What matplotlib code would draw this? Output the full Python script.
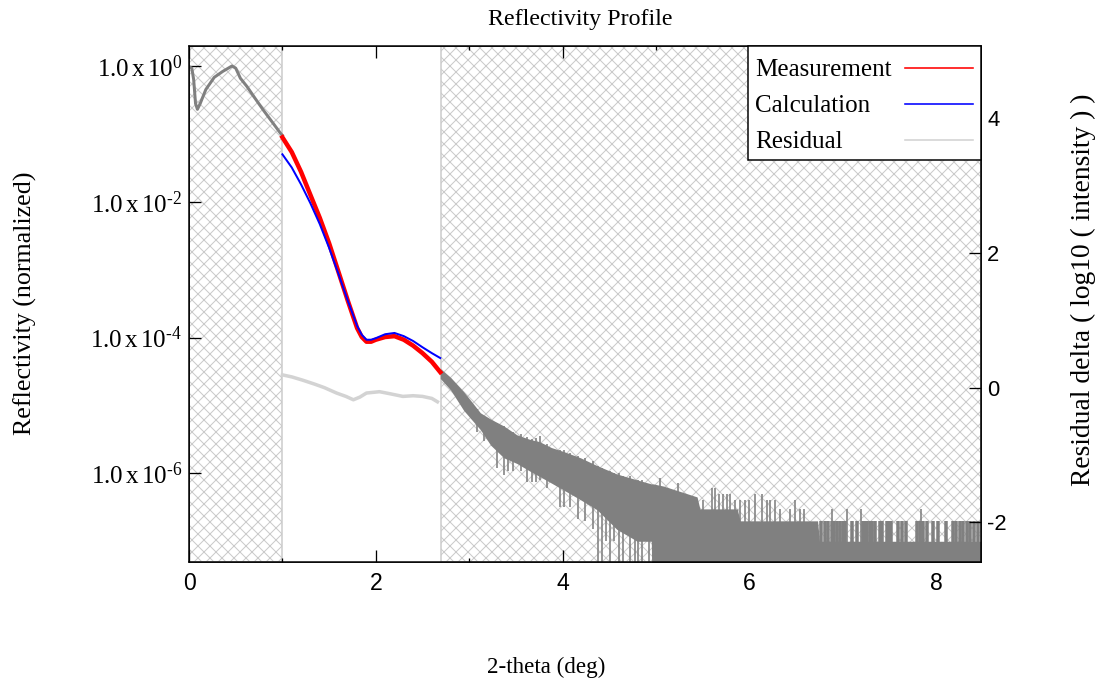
import matplotlib
matplotlib.use("Agg")
import matplotlib.pyplot as plt
import numpy as np
from matplotlib.patches import Rectangle
from matplotlib.ticker import FixedLocator, FuncFormatter, NullLocator

# --- data --------------------------------------------------------------
# measurement outside the fit window (0..1 deg), reflectivity
low_x = [0.00, 0.03, 0.05, 0.07, 0.09, 0.12, 0.18, 0.27, 0.36, 0.46, 0.50,
         0.55, 0.62, 0.71, 0.80, 0.89, 0.98, 1.00]
low_y = [0.98, 0.93, 0.63, 0.28, 0.23, 0.28, 0.45, 0.68, 0.83, 1.00, 0.93,
         0.66, 0.50, 0.33, 0.22, 0.15, 0.102, 0.095]

# fit window 1..2.7 deg
fit_x = [1.00, 1.10, 1.20, 1.30, 1.40, 1.50, 1.60, 1.70, 1.80, 1.85, 1.90,
         1.95, 2.00, 2.10, 2.20, 2.30, 2.40, 2.50, 2.60, 2.69]
meas_y = [8.9e-2, 5.4e-2, 2.75e-2, 1.26e-2, 5.8e-3, 2.45e-3, 9.3e-4, 3.5e-4,
          1.38e-4, 1.02e-4, 8.7e-5, 8.7e-5, 9.3e-5, 1.02e-4, 1.05e-4, 9.3e-5,
          7.6e-5, 5.9e-5, 4.4e-5, 3.1e-5]
calc_y = [5.0e-2, 3.2e-2, 1.8e-2, 9.5e-3, 4.7e-3, 2.1e-3, 8.7e-4, 3.5e-4,
          1.48e-4, 1.1e-4, 9.3e-5, 9.3e-5, 9.8e-5, 1.12e-4, 1.17e-4, 1.05e-4,
          8.9e-5, 7.2e-5, 5.9e-5, 5.0e-5]

# residual, log10 units (right axis)
res_x = [1.00, 1.10, 1.22, 1.35, 1.45, 1.58, 1.68, 1.76, 1.83, 1.90, 2.04,
         2.15, 2.29, 2.40, 2.50, 2.60, 2.66]
res_y = [0.19, 0.16, 0.11, 0.05, 0.00, -0.08, -0.13, -0.18, -0.14, -0.08,
         -0.06, -0.09, -0.13, -0.12, -0.13, -0.16, -0.21]

# noisy measurement above 2.7 deg: band envelope (0 = no counts)
tail_x = [2.69, 2.80, 2.94, 3.03, 3.12, 3.23, 3.37, 3.51, 3.64, 3.76, 3.88,
          4.01, 4.19, 4.37, 4.58, 4.80, 4.95, 4.97, 5.08, 5.44, 5.47, 5.87,
          5.90, 6.73, 6.75, 8.48]
tail_hi = [3.5e-5, 2.6e-5, 1.6e-5, 1.12e-5, 7.8e-6, 6.3e-6, 5.0e-6, 3.7e-6,
           3.2e-6, 2.9e-6, 2.4e-6, 2.1e-6, 1.7e-6, 1.3e-6, 9.8e-7, 8e-7,
           7e-7, 7e-7, 6.5e-7, 4.5e-7, 3e-7, 3e-7, 2e-7, 2e-7, 1e-7, 1e-7]
tail_lo = [2.5e-5, 1.7e-5, 8.5e-6, 6.1e-6, 4.4e-6, 2.6e-6, 1.7e-6, 1.4e-6,
           1.1e-6, 8.9e-7, 7.2e-7, 5.7e-7, 4.1e-7, 2.9e-7, 1.5e-7, 1e-7,
           1e-7, 0, 0, 0, 0, 0, 0, 0, 0, 0]

# single spikes (x, low end, high end)
spike_x = [3.08, 3.16, 3.30, 3.37, 3.42, 3.47, 3.55, 3.62, 3.67, 3.72, 3.76,
           3.83, 3.97, 4.02, 4.08, 4.16, 4.24, 4.33, 4.38, 4.42, 4.47, 4.51,
           4.55, 4.60, 4.65, 4.72, 4.78, 4.81, 4.85, 4.92, 5.04, 5.24, 5.50,
           5.60, 5.63, 5.67, 5.72, 5.76, 5.79, 5.85, 5.90, 5.95, 6.00, 6.06,
           6.13, 6.19, 6.22, 6.27, 6.33, 6.43, 6.49, 6.54, 6.58, 6.89, 7.05,
           7.20, 7.84]
spike_lo = [4e-6, 3e-6, 1.2e-6, 9.5e-7, 1.1e-6, 1.1e-6, 1.1e-6, 7.5e-7,
            7.5e-7, 7.5e-7, 8e-7, 6e-7, 3.2e-7, 3.2e-7, 3.2e-7, 2.1e-7, 2e-7,
            1.5e-7, 0, 0, 1e-7, 0, 1e-7, 0, 0, 0, 0, 0, 0, 0, 0, 0, 0, 0, 0, 0,
            0, 0, 0, 0, 0, 0, 0, 0, 0, 0, 0, 0, 0, 0, 0, 0, 0, 0, 0, 0, 0]
spike_hi = [9e-6, 7e-6, 5.5e-6, 5e-6, 4.3e-6, 4e-6, 3.8e-6, 3.4e-6, 3.2e-6,
            3.3e-6, 3.6e-6, 2.7e-6, 2.2e-6, 2.2e-6, 2e-6, 1.8e-6, 1.7e-6,
            1.5e-6, 1.3e-6, 1.2e-6, 1.1e-6, 1.1e-6, 1.0e-6, 1.0e-6, 9e-7,
            9e-7, 8e-7, 8e-7, 8e-7, 7e-7, 8.6e-7, 7.3e-7, 4e-7, 6e-7, 6e-7,
            5e-7, 5e-7, 5e-7, 5e-7, 4e-7, 4e-7, 4e-7, 4e-7, 5e-7, 5e-7, 4e-7,
            4e-7, 4e-7, 3e-7, 3e-7, 4e-7, 3e-7, 3e-7, 3e-7, 3e-7, 3e-7, 3e-7]

# two-count bars in the flat tail
bar_x = [6.77, 6.81, 6.84, 6.88, 6.91, 6.94, 6.97, 7.00, 7.02, 7.10, 7.15,
         7.22, 7.24, 7.26, 7.29, 7.31, 7.34, 7.40, 7.42, 7.47, 7.50, 7.52,
         7.59, 7.63, 7.68, 7.80, 7.83, 7.86, 7.90, 7.97, 8.02, 8.11, 8.18,
         8.21, 8.25, 8.29, 8.33, 8.36, 8.40, 8.45]
bar_top = 2e-7

fit_window = (1.0, 2.7)
legend_labels = ["Measurement", "Calculation", "Residual"]
legend_colors = ["red", "blue", "#d3d3d3"]

# --- style -----------------------------------------------------------------
plt.rcParams["font.family"] = "Liberation Serif"
plt.rcParams["mathtext.fontset"] = "custom"
plt.rcParams["mathtext.rm"] = "Liberation Serif"
plt.rcParams["mathtext.it"] = "Liberation Serif"
plt.rcParams["hatch.color"] = "#cacaca"
plt.rcParams["hatch.linewidth"] = 1.0
plt.rcParams["axes.unicode_minus"] = False

W, H = 1099, 683
L, R, T, B = 189, 981, 45.7, 562
fig = plt.figure(figsize=(W / 72, H / 72), dpi=72)
ax = fig.add_axes([L / W, 1 - B / H, (R - L) / W, (B - T) / H])

gray = "#808080"
hatch_c = "#cacaca"
floor = 1e-9

xmax = 8.48
ax.axvspan(0, fit_window[0], facecolor="white", edgecolor=hatch_c, hatch="xx",
           lw=1.5, zorder=0)
ax.axvspan(fit_window[1], xmax, facecolor="white", edgecolor=hatch_c,
           hatch="xx", lw=1.5, zorder=0)

ax.plot(low_x, low_y, color=gray, lw=3, zorder=2)
ax.fill_between(tail_x, np.maximum(tail_lo, floor), tail_hi, color=gray, lw=0,
                zorder=2)
ax.vlines(spike_x, np.maximum(spike_lo, floor), spike_hi, color=gray, lw=1.6,
          zorder=2)
ax.vlines(bar_x, floor, bar_top, color=gray, lw=3.5, zorder=2)

ax.plot(fit_x, meas_y, color="red", lw=4.5, zorder=3)
ax.plot(fit_x, calc_y, color="blue", lw=2, zorder=4)

ax.set_yscale("log")
ax.set_xlim(0, xmax)
ax.set_ylim(4.95e-8, 1.99)


def decade_label(v, pos):
    e = int(round(np.log10(v)))
    return r"$\mathrm{1.0\,x\,10}^{\text{%d}}$" % e


ax.xaxis.set_major_locator(FixedLocator([0, 2, 4, 6, 8]))
ax.xaxis.set_minor_locator(FixedLocator([1, 3, 5, 7]))
ax.yaxis.set_major_locator(FixedLocator([1e-6, 1e-4, 1e-2, 1.0]))
ax.yaxis.set_minor_locator(NullLocator())
ax.yaxis.set_major_formatter(FuncFormatter(decade_label))
ax.tick_params(axis="x", which="major", direction="in", length=12, width=1.3,
               top=True, pad=10, labelsize=23, labelfontfamily="Liberation Sans")
ax.tick_params(axis="x", which="minor", direction="in", length=4, width=1.3,
               top=True)
ax.tick_params(axis="y", which="major", direction="in", length=12, width=1.3,
               right=False, pad=7, labelsize=25)
for s in ax.spines.values():
    s.set_linewidth(1.5)

ax2 = ax.twinx()
ax2.plot(res_x, res_y, color="#d3d3d3", lw=3.5, zorder=2)
ax2.set_ylim(-2.59, 5.08)
ax2.yaxis.set_major_locator(FixedLocator([-2, 0, 2, 4]))
ax2.tick_params(axis="y", direction="in", length=12, width=1.3, pad=6,
                labelsize=22, labelfontfamily="Liberation Sans")


# legend box: text left, line sample right (pixel layout of the reference)
def axfrac(px, py):
    return (px - L) / (R - L), (B - py) / (B - T)


x0, y1 = axfrac(748, 160)
ax2.add_patch(Rectangle((x0, y1), 1 - x0, 1 - y1, transform=ax2.transAxes,
                        facecolor="white", edgecolor="black", lw=1.5,
                        zorder=10, clip_on=False))
for i, (lab, col) in enumerate(zip(legend_labels, legend_colors)):
    tx, ty = axfrac(755, 70 + 36 * i)
    ax2.text(tx, ty, lab, transform=ax2.transAxes, ha="left", va="center",
             fontsize=25, zorder=11)
    lx0, _ = axfrac(905, 0)
    lx1, _ = axfrac(973, 0)
    _, ly = axfrac(0, 68 + 36 * i)
    ax2.plot([lx0, lx1], [ly, ly], transform=ax2.transAxes, color=col,
             lw=1.6, zorder=11, clip_on=False)

fig.text(580 / W, 1 - 20 / H, "Reflectivity Profile", ha="center",
         va="center", fontsize=24)
fig.text(546 / W, 1 - 667 / H, "2-theta (deg)", ha="center", va="center",
         fontsize=23)
fig.text(25 / W, 1 - 303 / H, "Reflectivity (normalized)", ha="center",
         va="center", rotation=90, fontsize=26)
fig.text(1083 / W, 1 - 290 / H, "Residual delta ( log10 ( intensity ) )",
         ha="center", va="center", rotation=90, fontsize=27.5)

fig.savefig("out.png", dpi=72)
